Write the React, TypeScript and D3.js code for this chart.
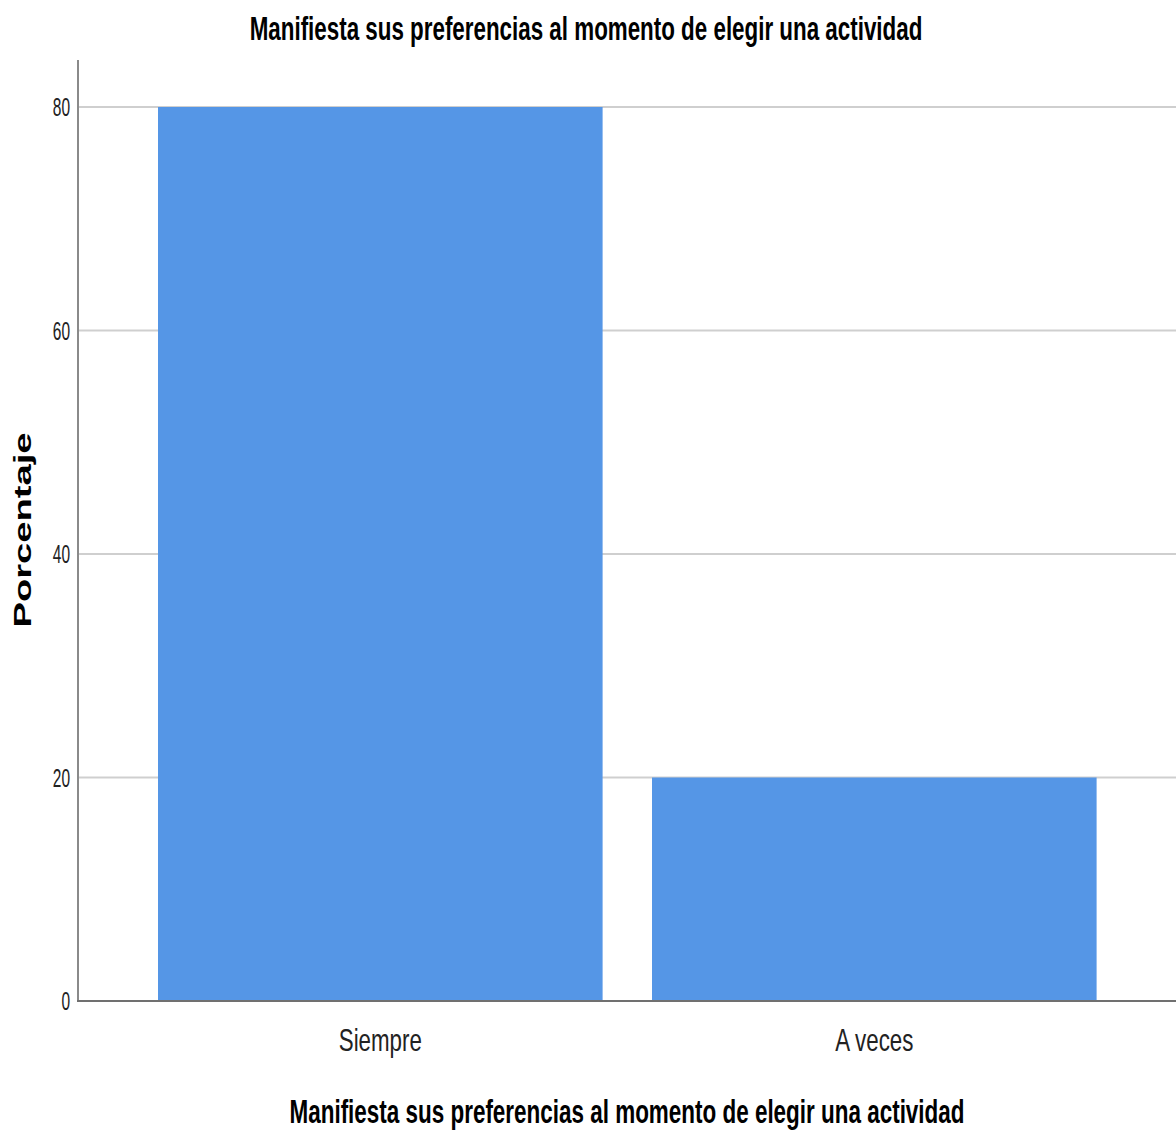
import React from "react";
import * as d3 from "d3";

const categories: string[] = ["Siempre", "A veces"];
const values: number[] = [80, 20];
const yTicks: number[] = [0, 20, 40, 60, 80];
const title = "Manifiesta sus preferencias al momento de elegir una actividad";
const xTitle = "Manifiesta sus preferencias al momento de elegir una actividad";
const yTitle = "Porcentaje";

const W = 1176;
const H = 1135;
const axisX = 78;
const axisTop = 60;

export default function App() {
  const x = d3
    .scaleBand<string>()
    .domain(categories)
    .range([108.6, 1146])
    .paddingInner(0.1)
    .paddingOuter(0.1);
  const y = d3.scaleLinear().domain([0, 80]).range([1001, 107]);
  const font = "'Liberation Sans', Arial, sans-serif";

  return (
    <svg
      width={W}
      height={H}
      style={{ position: "absolute", left: 0, top: 0, background: "#fff" }}
    >
      {yTicks
        .filter((t) => t !== 0)
        .map((t) => (
          <line
            key={"g" + t}
            x1={axisX}
            x2={W}
            y1={y(t)}
            y2={y(t)}
            stroke="#cfcfcf"
            strokeWidth={2}
          />
        ))}
      {categories.map((c, i) => (
        <rect
          key={c}
          x={x(c)}
          y={y(values[i])}
          width={x.bandwidth()}
          height={y(0) - y(values[i])}
          fill="#5596e6"
        />
      ))}
      <line x1={axisX} x2={axisX} y1={axisTop} y2={y(0) + 1} stroke="#8a8a8a" strokeWidth={2} />
      <line x1={axisX - 1} x2={W} y1={y(0)} y2={y(0)} stroke="#707070" strokeWidth={2} />
      {yTicks.map((t) => (
        <g key={"t" + t} transform={`translate(${axisX - 8},${y(t) + 9}) scale(0.62,1)`}>
          <text textAnchor="end" fontFamily={font} fontSize={25} fill="#222">
            {t}
          </text>
        </g>
      ))}
      {categories.map((c) => {
        const cx = (x(c) as number) + x.bandwidth() / 2;
        return (
          <g key={"l" + c} transform={`translate(${cx},1051) scale(0.72,1)`}>
            <text textAnchor="middle" fontFamily={font} fontSize={31} fill="#222">
              {c}
            </text>
          </g>
        );
      })}
      <g transform="translate(586,40) scale(0.6,1)">
        <text
          textAnchor="middle"
          fontFamily={font}
          fontWeight="bold"
          fontSize={33}
          textLength={1121}
          lengthAdjust="spacingAndGlyphs"
          fill="#000"
        >
          {title}
        </text>
      </g>
      <g transform="translate(627,1123) scale(0.6,1)">
        <text
          textAnchor="middle"
          fontFamily={font}
          fontWeight="bold"
          fontSize={33}
          textLength={1125}
          lengthAdjust="spacingAndGlyphs"
          fill="#000"
        >
          {xTitle}
        </text>
      </g>
      <text
        transform={`translate(31,530) rotate(-90)`}
        textAnchor="middle"
        fontFamily={font}
        fontWeight="bold"
        fontSize={23}
        textLength={195}
        lengthAdjust="spacingAndGlyphs"
        fill="#000"
      >
        {yTitle}
      </text>
    </svg>
  );
}
